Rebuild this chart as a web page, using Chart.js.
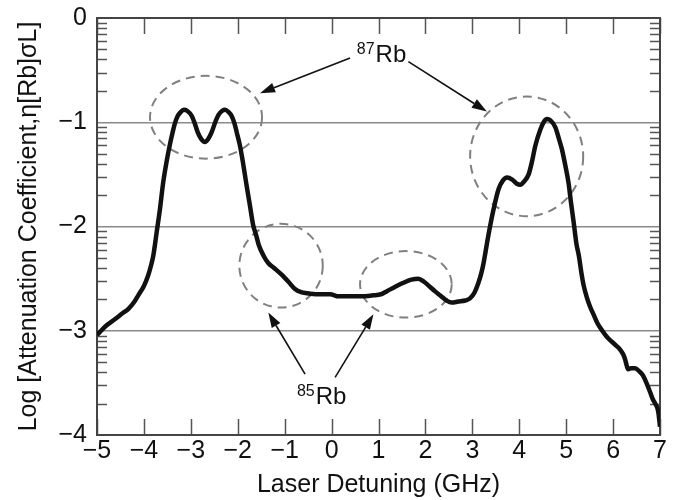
<!DOCTYPE html>
<html>
<head>
<meta charset="utf-8">
<script src="https://cdn.jsdelivr.net/npm/chart.js@4.4.1/dist/chart.umd.min.js"></script>
<style>
  html, body { margin: 0; padding: 0; background: #ffffff; }
  #wrap { width: 685px; height: 500px; position: relative; }
</style>
</head>
<body>
<div id="wrap"><canvas id="c" width="685" height="500"></canvas></div>
<script>
// ---- data ----
const detuningGHz = [
  -5.00, -4.80, -4.62, -4.45, -4.33, -4.20, -4.12, -4.00, -3.91, -3.84,
  -3.80, -3.76, -3.73, -3.66, -3.59, -3.51, -3.44, -3.39, -3.34, -3.28,
  -3.23, -3.15, -3.08, -2.98, -2.91, -2.85, -2.78, -2.70, -2.63, -2.56,
  -2.48, -2.41, -2.33, -2.27, -2.20, -2.13, -2.07, -2.02, -1.96, -1.91,
  -1.81, -1.74, -1.67, -1.61, -1.55, -1.45, -1.35, -1.22, -1.07, -0.92,
  -0.78, -0.65, -0.53, -0.30, -0.03, 0.15, 0.32, 0.60, 0.89, 1.05,
  1.18, 1.35, 1.53, 1.70, 1.85, 1.97, 2.10, 2.20, 2.31, 2.45,
  2.56, 2.70, 2.85, 2.95, 3.05, 3.13, 3.19, 3.24, 3.34, 3.45,
  3.56, 3.65, 3.74, 3.85, 3.95, 4.02, 4.10, 4.20, 4.27, 4.34,
  4.45, 4.52, 4.59, 4.66, 4.77, 4.84, 4.91, 4.98, 5.05, 5.10,
  5.16, 5.22, 5.27, 5.33, 5.37, 5.44, 5.51, 5.58, 5.67, 5.77,
  5.87, 5.96, 6.06, 6.15, 6.22, 6.26, 6.32, 6.38, 6.47, 6.56,
  6.64, 6.72, 6.79, 6.85, 6.90, 6.95, 6.97, 7.00
];
const logAttenuation = [
  -3.04, -2.95, -2.89, -2.83, -2.79, -2.72, -2.66, -2.57, -2.47, -2.36,
  -2.28, -2.16, -2.06, -1.84, -1.58, -1.36, -1.20, -1.10, -1.01, -0.94,
  -0.91, -0.88, -0.89, -0.94, -1.02, -1.10, -1.16, -1.19, -1.16, -1.10,
  -1.00, -0.93, -0.89, -0.88, -0.90, -0.94, -1.01, -1.10, -1.21, -1.33,
  -1.61, -1.80, -1.99, -2.08, -2.18, -2.28, -2.35, -2.40, -2.46, -2.53,
  -2.60, -2.63, -2.64, -2.65, -2.65, -2.67, -2.67, -2.67, -2.66, -2.65,
  -2.62, -2.58, -2.54, -2.51, -2.50, -2.53, -2.58, -2.62, -2.66, -2.71,
  -2.73, -2.72, -2.71, -2.69, -2.63, -2.54, -2.45, -2.35, -2.09, -1.84,
  -1.64, -1.56, -1.53, -1.55, -1.59, -1.60, -1.57, -1.50, -1.38, -1.23,
  -1.07, -1.00, -0.97, -0.98, -1.05, -1.15, -1.26, -1.41, -1.58, -1.76,
  -1.96, -2.17, -2.28, -2.46, -2.56, -2.68, -2.77, -2.84, -2.93, -3.00,
  -3.06, -3.10, -3.14, -3.18, -3.23, -3.28, -3.37, -3.36, -3.36, -3.39,
  -3.43, -3.51, -3.59, -3.66, -3.70, -3.75, -3.80, -3.92
];
const xTickValues = [-5, -4, -3, -2, -1, 0, 1, 2, 3, 4, 5, 6, 7];
const yTickValues = [0, -1, -2, -3, -4];
const yGridValues = [-1, -2, -3];
const xTitle = 'Laser Detuning (GHz)';
const yTitle = 'Log [Attenuation Coefficient,\u03b7[Rb]\u03c3L]';

// annotations (in data units)
const circleCenters = [[-2.676, -0.952], [4.158, -1.327], [-1.077, -2.376], [1.584, -2.555]];
const circleRadii = [[1.194, 0.397], [1.205, 0.574], [0.889, 0.402], [0.977, 0.319]];
const arrowFrom = [[0.394, -0.383], [1.637, -0.418], [-0.565, -3.416], [0.075, -3.448]];
const arrowTo = [[-1.525, -0.721], [3.309, -0.897], [-1.348, -2.826], [0.892, -2.842]];
const isotopeMass = ['87', '85'];
const isotopeSymbol = ['Rb', 'Rb'];
const isotopeAnchor = [[0.537, -0.418], [-0.739, -3.699]];

const FONT = '"Liberation Sans", Arial, Helvetica, sans-serif';
const minus = v => (v < 0 ? '\u2212' + Math.abs(v) : String(v));

const points = detuningGHz.map((x, i) => ({ x: x, y: logAttenuation[i] }));

const decor = {
  id: 'decor',
  beforeDatasetsDraw(chart) {
    const ctx = chart.ctx, a = chart.chartArea;
    const xs = chart.scales.x, ys = chart.scales.y;
    ctx.save();
    // dashed circles
    ctx.strokeStyle = '#808080';
    ctx.lineWidth = 2;
    ctx.setLineDash([9, 6]);
    circleCenters.forEach((c, i) => {
      const cx = xs.getPixelForValue(c[0]), cy = ys.getPixelForValue(c[1]);
      const rx = Math.abs(xs.getPixelForValue(c[0] + circleRadii[i][0]) - cx);
      const ry = Math.abs(ys.getPixelForValue(c[1] + circleRadii[i][1]) - cy);
      ctx.beginPath();
      ctx.ellipse(cx, cy, rx, ry, 0, 0, Math.PI * 2);
      ctx.stroke();
    });
    ctx.setLineDash([]);
    // inward tick marks
    ctx.strokeStyle = '#555';
    ctx.lineWidth = 1.5;
    ctx.beginPath();
    xTickValues.forEach(v => {
      const px = Math.round(xs.getPixelForValue(v)) + 0.5;
      ctx.moveTo(px, a.bottom); ctx.lineTo(px, a.bottom - 16);
      ctx.moveTo(px, a.top); ctx.lineTo(px, a.top + 16);
    });
    for (let d = 0; d > -4; d--) {
      for (let k = 2; k <= 9; k++) {
        const val = d - 1 + Math.log10(k);
        const py = Math.round(ys.getPixelForValue(val)) + 0.5;
        const len = 10;
        ctx.moveTo(a.left, py); ctx.lineTo(a.left + len, py);
        ctx.moveTo(a.right, py); ctx.lineTo(a.right - len, py);
      }
    }
    ctx.stroke();
    // frame
    ctx.strokeStyle = '#444';
    ctx.lineWidth = 2;
    ctx.strokeRect(a.left, a.top, a.right - a.left, a.bottom - a.top);
    ctx.restore();
  },
  afterDatasetsDraw(chart) {
    const ctx = chart.ctx;
    const xs = chart.scales.x, ys = chart.scales.y;
    ctx.save();
    // arrows
    ctx.strokeStyle = '#111';
    ctx.fillStyle = '#111';
    ctx.lineWidth = 1.6;
    arrowFrom.forEach((f, i) => {
      const x0 = xs.getPixelForValue(f[0]), y0 = ys.getPixelForValue(f[1]);
      const x1 = xs.getPixelForValue(arrowTo[i][0]), y1 = ys.getPixelForValue(arrowTo[i][1]);
      const ang = Math.atan2(y1 - y0, x1 - x0);
      const hl = 15, hw = 5;
      const bx = x1 - hl * Math.cos(ang), by = y1 - hl * Math.sin(ang);
      ctx.beginPath();
      ctx.moveTo(x0, y0); ctx.lineTo(bx, by);
      ctx.stroke();
      ctx.beginPath();
      ctx.moveTo(x1, y1);
      ctx.lineTo(bx + hw * Math.sin(ang), by - hw * Math.cos(ang));
      ctx.lineTo(bx - hw * Math.sin(ang), by + hw * Math.cos(ang));
      ctx.closePath();
      ctx.fill();
    });
    // isotope labels
    ctx.textBaseline = 'alphabetic';
    ctx.textAlign = 'left';
    isotopeAnchor.forEach((p, i) => {
      const px = xs.getPixelForValue(p[0]), py = ys.getPixelForValue(p[1]);
      ctx.font = '16px ' + FONT;
      ctx.fillText(isotopeMass[i], px, py - 8);
      const w = ctx.measureText(isotopeMass[i]).width;
      ctx.font = '24px ' + FONT;
      ctx.fillText(isotopeSymbol[i], px + w + 1, py);
    });
    ctx.restore();
  }
};

new Chart(document.getElementById('c'), {
  type: 'scatter',
  data: {
    datasets: [{
      data: points,
      showLine: true,
      borderColor: '#111',
      borderWidth: 4.5,
      pointRadius: 0,
      cubicInterpolationMode: 'monotone',
      fill: false
    }]
  },
  options: {
    responsive: false,
    animation: false,
    devicePixelRatio: 1,
    layout: { padding: { top: 18, right: 25, left: 0, bottom: 0 } },
    plugins: { legend: { display: false }, tooltip: { enabled: false } },
    scales: {
      x: {
        type: 'linear', min: -5, max: 7,
        afterFit: s => { s.height = 65; },
        afterBuildTicks: s => { s.ticks = xTickValues.map(v => ({ value: v })); },
        grid: { display: false, drawTicks: false },
        border: { display: false },
        ticks: { callback: minus, color: '#111', padding: 1, maxRotation: 0, autoSkip: false,
                 font: { family: FONT, size: 25 } },
        title: { display: true, text: xTitle, color: '#111', padding: { top: 0, bottom: 0 },
                 font: { family: FONT, size: 25 } }
      },
      y: {
        type: 'linear', min: -4, max: 0,
        afterFit: s => { s.width = 97; s.paddingTop = 0; s.paddingBottom = 0; },
        afterBuildTicks: s => { s.ticks = yTickValues.map(v => ({ value: v })); },
        grid: {
          drawTicks: false,
          color: c => (yGridValues.includes(c.tick.value) ? '#8a8a8a' : 'rgba(0,0,0,0)'),
          lineWidth: 1.5
        },
        border: { display: false },
        ticks: { callback: minus, color: '#111', padding: 10,
                 font: { family: FONT, size: 25 } },
        title: { display: true, text: yTitle, color: '#111', padding: { top: 14, bottom: 0 },
                 font: { family: FONT, size: 25 } }
      }
    }
  },
  plugins: [decor]
});
</script>
</body>
</html>
